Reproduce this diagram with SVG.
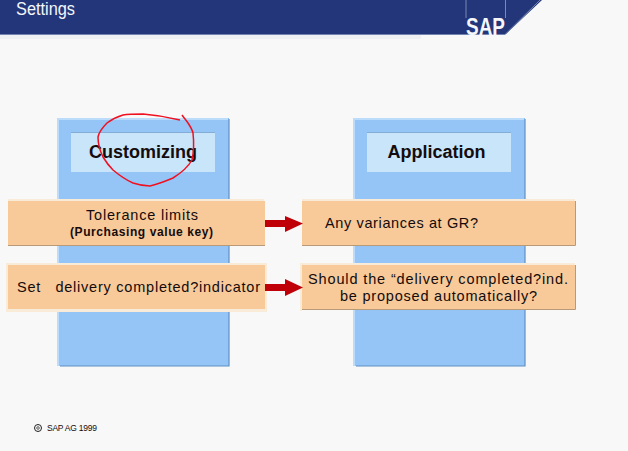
<svg xmlns="http://www.w3.org/2000/svg" width="628" height="451" viewBox="0 0 628 451">
<style>
text{font-family:"Liberation Sans",Arial,sans-serif;fill:#140c0c}
.col{fill:#95c5f7;stroke:none}
.cs{fill:none;stroke:#5f8fc4;stroke-width:1.2}
.ch{fill:none;stroke:#bcdcfb;stroke-width:2}
.hd{fill:#c8e5fa}
.hl{fill:none;stroke:#84add6;stroke-width:1}
.box{fill:#f8c999}
.halo{fill:none;stroke:#f8ecd9;stroke-width:2}
.bs{fill:none;stroke:#b89a78;stroke-width:1}
.t14{font-size:14.500px}
.t18{font-size:18px;font-weight:bold;text-anchor:middle}
.arr{fill:#c00008}
</style>
<rect width="628" height="451" fill="#f8f8f8"/>
<g id="header">
<rect x="0" y="35" width="421" height="4" fill="#eef0f2"/>
<polygon points="0,0 542,0 506,34 0,34" fill="#223679"/>
<path d="M0 34.500H505L541 -1" fill="none" stroke="#7484b0" stroke-width="1"/>
<path d="M466 0V18M505.500 0V18" fill="none" stroke="#7a89b5" stroke-width="1"/>
<text x="16" y="14.500" font-size="18" style="fill:#f4f6fa" textLength="59" lengthAdjust="spacingAndGlyphs">Settings</text>
<text x="466" y="35" font-size="23" font-weight="bold" style="fill:#f4f6fa" textLength="39" lengthAdjust="spacingAndGlyphs">SAP</text>
</g>
<g id="customizing">
<rect class="col" x="57" y="118" width="172" height="248"/>
<path class="ch" d="M58 366V119H228"/>
<path class="cs" d="M229 119V366H60"/>
<rect class="hd" x="71" y="132" width="144" height="40"/>
<path class="hl" d="M71 132.500H215"/>
<text class="t18" x="143" y="158">Customizing</text>
</g>
<g id="application">
<rect class="col" x="353" y="118" width="172" height="248"/>
<path class="ch" d="M354 366V119H524"/>
<path class="cs" d="M525 119V366H356"/>
<rect class="hd" x="367" y="132" width="144" height="40"/>
<path class="hl" d="M367 132.500H511"/>
<text class="t18" x="436.500" y="158">Application</text>
</g>
<g id="tolerance">
<path class="halo" d="M8 200H264"/>
<rect class="box" x="8" y="201" width="257" height="45"/>
<path class="bs" d="M8 245.500H265"/>
<text class="t14" x="86" y="220" textLength="112">Tolerance limits</text>
<text x="70" y="236" font-size="12" font-weight="bold" textLength="143">(Purchasing value key)</text>
</g>
<g id="set-indicator">
<rect x="6" y="263" width="261" height="49" fill="#f8ecd9"/>
<rect class="box" x="8" y="265" width="257" height="44"/>
<text class="t14" x="17" y="292" textLength="243" xml:space="preserve">Set   delivery completed?indicator</text>
</g>
<g id="variances">
<path class="halo" d="M302 200H575"/>
<rect class="box" x="302" y="201" width="273" height="45"/>
<path class="bs" d="M302 245.500H575.500V201"/>
<text class="t14" x="325" y="228" textLength="153">Any variances at GR?</text>
</g>
<g id="proposed">
<path class="halo" d="M301 311V264H575"/>
<rect class="box" x="302" y="265" width="273" height="44"/>
<path class="bs" d="M302 309.500H575.500V265"/>
<text class="t14" x="308" y="284" textLength="260">Should the “delivery completed?ind.</text>
<text class="t14" x="340" y="301" textLength="197">be proposed automatically?</text>
</g>
<g id="connectors">
<polygon class="arr" points="265,220 285,220 285,216 303,223.500 285,232 285,227 265,227"/>
<polygon class="arr" points="265,284 285,284 285,279 303,287.500 285,296 285,291 265,291"/>
</g>
<g id="annotation">
<path d="M180 120C168 117 156 115 143 114C135 114 129 114 123 115C116 117 111 120 107 123C102 128 99 132 98 137C98 144 100 151 103 157C106 162 109 166 113 170C119 175 126 180 133 183C139 185 145 186 150 186C158 184 166 181 173 178C181 173 188 167 192 160C194 151 194 142 193 133C192 129 190 126 188 123C186 120 184 118 182 115" fill="none" stroke="#f01020" stroke-width="1.500"/>
</g>
<g id="footer">
<circle cx="38" cy="428" r="3.500" fill="none" stroke="#222" stroke-width="1"/>
<circle cx="38" cy="428" r="1.300" fill="none" stroke="#222" stroke-width=".7"/>
<text x="47" y="431" font-size="8.500" textLength="50">SAP AG 1999</text>
</g>
</svg>
